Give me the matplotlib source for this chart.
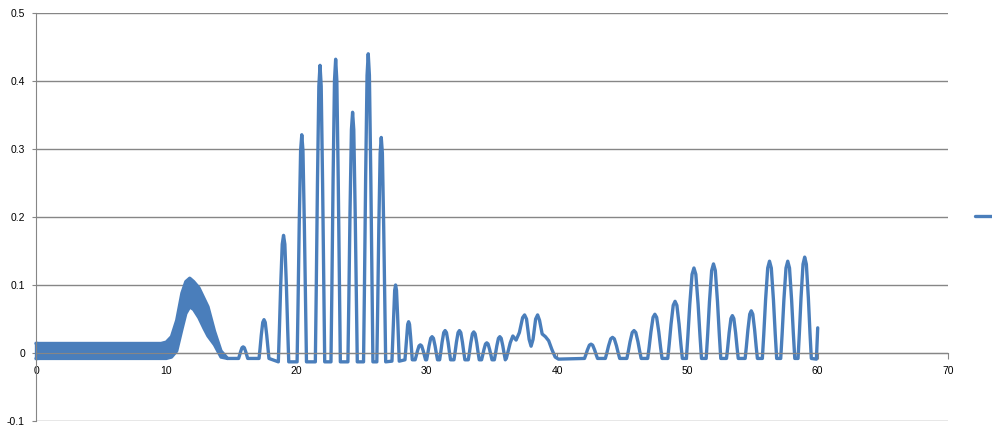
import numpy as np
import matplotlib
matplotlib.use('Agg')
import matplotlib.pyplot as plt

LINE_BLUE = '#4a7ebb'
GRID_GREY = '#868686'

# noisy band at the start (0..14.7): upper and lower edges
band_x = [0.0, 9.6, 10.0, 10.4, 10.8, 11.2, 11.5, 11.8, 12.1, 12.5, 12.9, 13.2, 13.7, 14.2, 14.7]
band_hi = [0.014, 0.014, 0.016, 0.024, 0.048, 0.088, 0.105, 0.110, 0.105, 0.096, 0.080, 0.068, 0.032, 0.003, -0.008]
band_lo = [-0.008, -0.008, -0.008, -0.006, 0.003, 0.035, 0.058, 0.068, 0.064, 0.052, 0.036, 0.025, 0.012, -0.006, -0.008]

# isolated peaks: centre, top, half base width, baseline level
peak_pos = [15.9, 17.5, 19.0, 20.4, 21.8, 23.0, 24.3, 25.5, 26.5, 27.6, 28.6, 29.5, 30.4, 31.4, 32.5,
            33.6, 34.6, 35.6, 42.6, 44.25, 45.9, 47.5, 49.05, 50.5, 52.0, 53.45, 54.9, 56.3, 57.7, 59.0]
peak_height = [0.009, 0.049, 0.173, 0.321, 0.423, 0.432, 0.354, 0.440, 0.317, 0.100, 0.046, 0.012, 0.024, 0.033, 0.033,
               0.031, 0.015, 0.024, 0.013, 0.023, 0.033, 0.057, 0.076, 0.125, 0.131, 0.055, 0.062, 0.135, 0.135, 0.141]
peak_halfwidth = [0.35, 0.38, 0.40, 0.36, 0.36, 0.36, 0.36, 0.36, 0.34, 0.28, 0.28, 0.40, 0.42, 0.42, 0.42,
                  0.42, 0.40, 0.42, 0.50, 0.55, 0.55, 0.55, 0.56, 0.58, 0.56, 0.45, 0.47, 0.55, 0.54, 0.51]
peak_base = [-0.008, -0.008, -0.013, -0.013, -0.013, -0.013, -0.013, -0.013, -0.013, -0.012, -0.010, -0.010, -0.010, -0.010, -0.010,
             -0.010, -0.010, -0.010, -0.008, -0.008, -0.008, -0.008, -0.008, -0.008, -0.008, -0.008, -0.008, -0.008, -0.008, -0.008]

# merged cluster around 37-39
cluster_x = [36.1, 36.4, 36.6, 36.85, 37.1, 37.35, 37.5, 37.65, 37.85, 38.0, 38.15, 38.35, 38.5, 38.65, 38.85,
             39.1, 39.35, 39.6, 39.85, 40.1]
cluster_y = [-0.008, 0.015, 0.025, 0.019, 0.030, 0.052, 0.056, 0.050, 0.020, 0.010, 0.020, 0.050, 0.056, 0.048, 0.028,
             0.024, 0.018, 0.005, -0.006, -0.009]

# last samples
tail_x = [59.9, 60.0]
tail_y = [-0.009, 0.037]

x_ticks = [0, 10, 20, 30, 40, 50, 60, 70]
y_ticks = [-0.1, 0, 0.1, 0.2, 0.3, 0.4, 0.5]

# outline used to draw one peak (fraction of half width / fraction of height)
SHAPE_DX = np.array([-1, -0.8, -0.55, -0.25, 0, 0.25, 0.55, 0.8, 1])
SHAPE_DY = np.array([0, 0.25, 0.6, 0.93, 1, 0.93, 0.6, 0.25, 0])


def build_trace():
    segs = [([band_x[-1]], [band_lo[-1]])]
    for c, h, w, b in zip(peak_pos, peak_height, peak_halfwidth, peak_base):
        segs.append((list(c + w * SHAPE_DX), list(b + (h - b) * SHAPE_DY)))
    segs.append((cluster_x, cluster_y))
    segs.append((tail_x, tail_y))
    segs.sort(key=lambda s: s[0][0])
    xs, ys = [], []
    for sx, sy in segs:
        xs += list(sx)
        ys += list(sy)
    return xs, ys


def main():
    plt.rcParams['font.family'] = ['Liberation Sans', 'DejaVu Sans']
    fig = plt.figure(figsize=(9.92, 4.28), dpi=100)
    ax = fig.add_axes([36 / 992, 7 / 428, (948 - 36) / 992, (421 - 13) / 428])

    ax.fill_between(band_x, band_lo, band_hi, color=LINE_BLUE, lw=0)
    ax.plot(band_x, band_hi, color=LINE_BLUE, lw=2.4, solid_capstyle='round')
    ax.plot(band_x, band_lo, color=LINE_BLUE, lw=2.4, solid_capstyle='round')
    ax.plot([0, 0], [band_lo[0], band_hi[0]], color=LINE_BLUE, lw=2.4)

    xs, ys = build_trace()
    line, = ax.plot(xs, ys, color=LINE_BLUE, lw=2.4, solid_joinstyle='round', solid_capstyle='round')

    ax.set_xlim(0, 70)
    ax.set_ylim(-0.1, 0.5)
    ax.set_xticks(x_ticks)
    ax.set_xticklabels([str(t) for t in x_ticks])
    ax.set_yticks(y_ticks)
    ax.set_yticklabels(['-0.1', '0', '0.1', '0.2', '0.3', '0.4', '0.5'])

    for s in ['top', 'right']:
        ax.spines[s].set_visible(False)
    ax.spines['bottom'].set_position(('data', 0))
    ax.spines['bottom'].set_color(GRID_GREY)
    ax.spines['left'].set_color(GRID_GREY)
    ax.grid(axis='y', color=GRID_GREY, lw=1)
    ax.set_axisbelow(True)
    ax.tick_params(axis='x', direction='out', length=4, color=GRID_GREY, labelsize=7.5, pad=5)
    ax.tick_params(axis='y', direction='out', length=3, color=GRID_GREY, labelsize=7.5, pad=5)
    for art in ax.lines + ax.collections:
        art.set_clip_on(False)

    fig.legend([line], [''], loc='center left', bbox_to_anchor=(975 / 992, 1 - 217 / 428),
               frameon=False, handlelength=1.6, borderpad=0, borderaxespad=0, handletextpad=0)

    fig.savefig('out.png', dpi=100)


if __name__ == '__main__':
    main()
